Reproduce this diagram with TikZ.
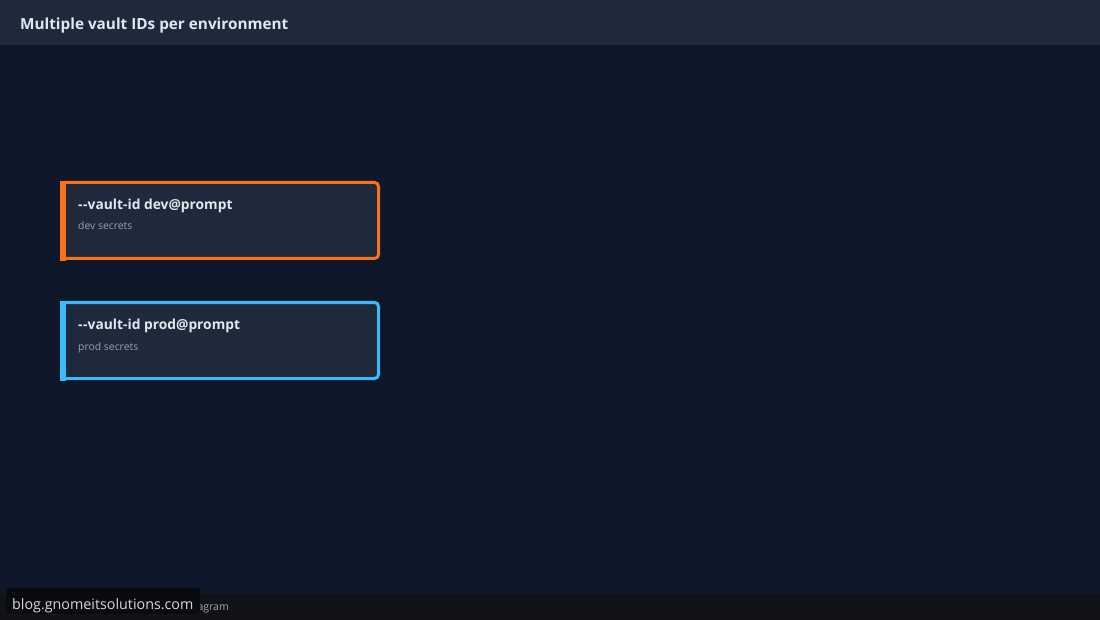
\documentclass[tikz,border=0pt]{standalone}
\usepackage{fontspec}
\setmainfont{Open Sans}
\definecolor{bgc}{HTML}{0F172A}
\definecolor{panel}{HTML}{1E293B}
\definecolor{ttl}{HTML}{E2E8F0}
\definecolor{sub}{HTML}{94A3B8}
\definecolor{orng}{HTML}{F97316}
\definecolor{sky}{HTML}{38BDF8}
\definecolor{foot}{HTML}{121318}
\definecolor{wm}{HTML}{0A0B0F}
\tikzset{
  card/.style={draw=#1, line width=3pt, fill=panel, rounded corners=4pt, minimum width=317pt, minimum height=76pt, inner sep=0pt, anchor=north west},
  cardtitle/.style={anchor=base west, inner sep=0pt, text=ttl, font=\fontsize{13.8}{15}\selectfont\bfseries},
  cardsub/.style={anchor=base west, inner sep=0pt, text=sub, font=\fontsize{10.4}{12}\selectfont},
}
\newcommand{\dd}{-\kern0.6pt-}
\begin{document}
\begin{tikzpicture}[x=1pt,y=-1pt]
\useasboundingbox (0,0) rectangle (1100,620);
\fill[bgc] (0,0) rectangle (1100,620);
\fill[panel] (0,0) rectangle (1100,45);
\node[anchor=base west, inner sep=0pt, text=ttl, font=\fontsize{15.3}{17}\selectfont\bfseries] (title) at (20,30) {Multiple vault IDs per environment};
% card 1
\node[card=orng] (dev) at (60,181) {};
\fill[orng] (60,181) rectangle (66,261);
\node[cardtitle] (devt) at (78,210) {\dd vault-id dev@prompt};
\node[cardsub] (devs) at (78,230) {dev secrets};
% card 2
\node[card=sky] (prod) at (60,301) {};
\fill[sky] (60,301) rectangle (66,381);
\node[cardtitle] (prodt) at (78,330) {\dd vault-id prod@prompt};
\node[cardsub] (prods) at (78,350) {prod secrets};
% footer
\fill[foot] (0,594) rectangle (1100,620);
\node[anchor=base west, inner sep=0pt, text=gray!70, font=\fontsize{10.5}{12}\selectfont] (ftxt) at (187,610) {Diagram};
\fill[wm] (6,588) rectangle (200,614);
\node[anchor=base west, inner sep=0pt, text=white!85!black, font=\fontsize{14.3}{16}\selectfont] (wmark) at (12,609) {blog.gnomeitsolutions.com};
\end{tikzpicture}
\end{document}
